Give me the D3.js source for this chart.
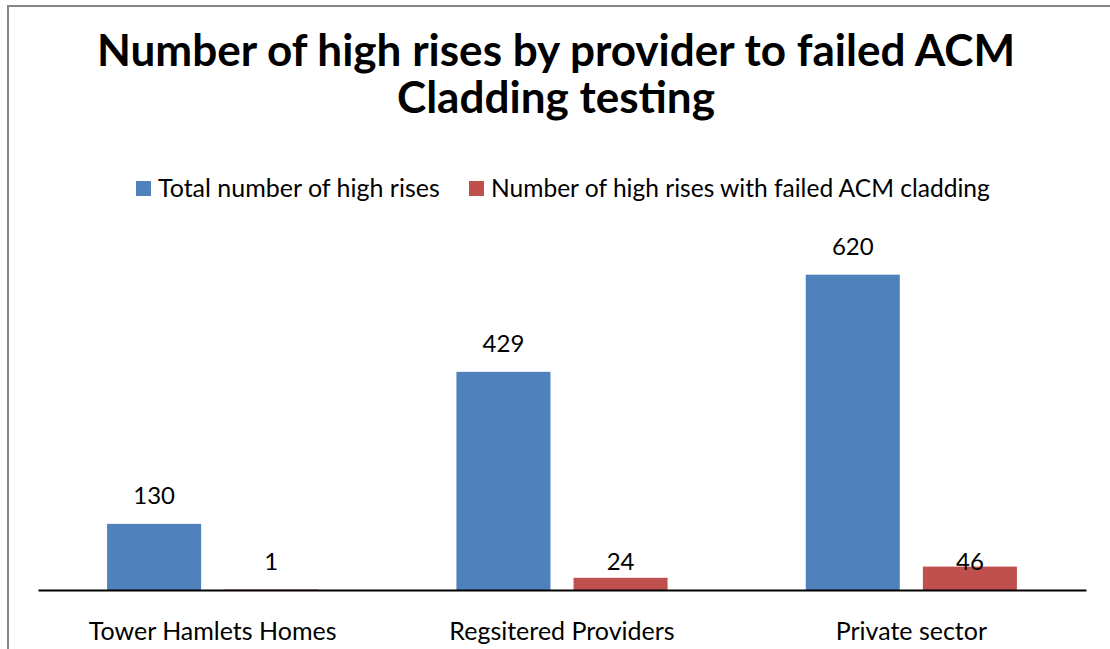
<!DOCTYPE html>
<html>
<head>
<meta charset="utf-8">
<script src="https://cdn.jsdelivr.net/npm/d3@7"></script>
<style>
  body { margin: 0; background: #fff; }
  text { font-family: Lato, "Open Sans", sans-serif; fill: #000; }
</style>
</head>
<body>
<div id="chart"></div>
<script>
const categories = ["Tower Hamlets Homes", "Regsitered Providers", "Private sector"];
const seriesNames = ["Total number of high rises", "Number of high rises with failed ACM cladding"];
const totalHighRises = [130, 429, 620];
const failedAcm = [1, 24, 46];
const titleLines = ["Number of high rises by provider to failed ACM", "Cladding testing"];
const colors = ["#4F81BD", "#C0504D"];

const W = 1110, H = 649;
const svg = d3.select("#chart").append("svg")
    .attr("width", W)
    .attr("height", H);

// chart area border (right/bottom edges fall outside the picture)
svg.append("rect")
    .attr("x", 8).attr("y", 6)
    .attr("width", 1120).attr("height", 700)
    .attr("fill", "#fff")
    .attr("stroke", "#868686")
    .attr("stroke-width", 2);

// scale text so its width matches the original
function fitText(sel, target) {
    const w = sel.node().getComputedTextLength();
    const fs = parseFloat(sel.style("font-size"));
    sel.style("font-size", (fs * target / w) + "px");
}

// title
const titleY = [66, 113];
const titleWidths = [937, 318];
titleLines.forEach((t, i) => {
    const tx = svg.append("text")
        .attr("x", 556)
        .attr("y", titleY[i])
        .attr("text-anchor", "middle")
        .style("font-weight", "bold")
        .style("font-size", "40px")
        .text(t);
    fitText(tx, titleWidths[i]);
});
// keep both title lines the same size
const tsize = d3.min(svg.selectAll("text").nodes(), n => parseFloat(n.style.fontSize));
svg.selectAll("text").style("font-size", tsize + "px");

// legend
const legendX = [136, 469];
const legendW = [282, 499];
seriesNames.forEach((s, i) => {
    svg.append("rect")
        .attr("x", legendX[i]).attr("y", 181)
        .attr("width", 15).attr("height", 15)
        .attr("fill", colors[i]);
    const lt = svg.append("text")
        .attr("x", legendX[i] + 22)
        .attr("y", 197)
        .style("font-size", "22px")
        .text(s);
    fitText(lt, legendW[i]);
});

const margin = {left: 38, right: 24};
const plotLeft = margin.left, plotRight = W - margin.right;

const x0 = d3.scaleBand()
    .domain(categories)
    .range([plotLeft, plotRight])
    .padding(0);

const x1 = d3.scaleBand()
    .domain(seriesNames)
    .range([0, x0.bandwidth()])
    .paddingInner(0.197)
    .paddingOuter(0.59);

const y = d3.scaleLinear()
    .domain([0, 700])
    .range([590, 234]);

const rows = categories.map((c, i) => ({
    cat: c,
    vals: [totalHighRises[i], failedAcm[i]]
}));

const groups = svg.append("g").selectAll("g")
    .data(rows)
    .enter().append("g")
    .attr("transform", d => `translate(${x0(d.cat)},0)`);

groups.selectAll("rect")
    .data(d => d.vals.map((v, j) => ({s: seriesNames[j], v: v, j: j})))
    .enter().append("rect")
    .attr("x", d => x1(d.s))
    .attr("y", d => y(d.v))
    .attr("width", x1.bandwidth())
    .attr("height", d => y(0) - y(d.v))
    .attr("fill", d => colors[d.j]);

// data labels; labels of short bars sit just above the axis
groups.selectAll("text.val")
    .data(d => d.vals.map((v, j) => ({s: seriesNames[j], v: v, j: j})))
    .enter().append("text")
    .attr("class", "val")
    .attr("x", d => x1(d.s) + x1.bandwidth() / 2)
    .attr("y", d => d.v > 100 ? y(d.v) - 20 : y(0) - 20)
    .attr("text-anchor", "middle")
    .style("font-size", "24px")
    .text(d => d.v);

// x axis
const xAxis = svg.append("g")
    .attr("transform", `translate(0,${y(0)})`)
    .call(d3.axisBottom(x0).tickSize(0).tickPadding(0));
xAxis.select(".domain")
    .attr("stroke", "#000")
    .attr("stroke-width", 2);
xAxis.selectAll(".tick text")
    .attr("y", 50)
    .attr("dy", 0)
    .style("font-family", "Lato, 'Open Sans', sans-serif")
    .style("font-size", "25px")
    .attr("fill", "#000");
</script>
</body>
</html>
